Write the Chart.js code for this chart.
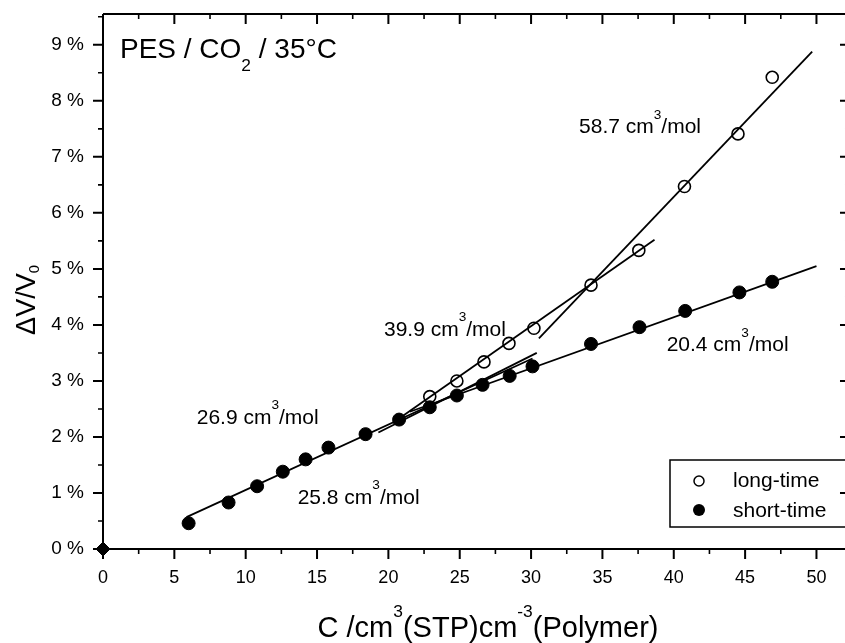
<!DOCTYPE html>
<html>
<head>
<meta charset="utf-8">
<script src="https://cdn.jsdelivr.net/npm/chart.js@4.4.1/dist/chart.umd.min.js"></script>
<style>
  html, body { margin: 0; padding: 0; background: #fff; }
  #wrap { width: 845px; height: 643px; }
</style>
</head>
<body>
<div id="wrap"><canvas id="chart" width="845" height="643"></canvas></div>
<script>
'use strict';

// sorbed CO2 (cm3(STP)/cm3 polymer) and dilation dV/V0 in %
var shortTimeC = [6.0, 8.8, 10.8, 12.6, 14.2, 15.8, 18.4, 20.75, 22.9, 24.8, 26.6, 28.5, 30.1, 34.2, 37.6, 40.8, 44.6, 46.9];
var shortTimeV = [0.46, 0.83, 1.12, 1.38, 1.60, 1.81, 2.05, 2.31, 2.53, 2.74, 2.93, 3.09, 3.26, 3.66, 3.96, 4.25, 4.58, 4.77];
var longTimeC = [22.9, 24.8, 26.7, 28.45, 30.2, 34.2, 37.55, 40.75, 44.5, 46.9];
var longTimeV = [2.72, 3.00, 3.34, 3.67, 3.94, 4.71, 5.33, 6.47, 7.41, 8.42];
var originC = [0];
var originV = [0];

// linear fits (partial molar volumes), two end points each
var fit258C = [5.85, 30.1];
var fit258V = [0.57, 3.40];
var fit269C = [19.3, 30.4];
var fit269V = [2.08, 3.50];
var fit399C = [20.3, 38.65];
var fit399V = [2.25, 5.52];
var fit587C = [30.55, 49.7];
var fit587V = [3.76, 8.88];
var fit204C = [21.5, 50.0];
var fit204V = [2.45, 5.05];

var xTicks = [0, 5, 10, 15, 20, 25, 30, 35, 40, 45, 50];
var xMinorTicks = [2.5, 7.5, 12.5, 17.5, 22.5, 27.5, 32.5, 37.5, 42.5, 47.5];
var yTicks = [0, 1, 2, 3, 4, 5, 6, 7, 8, 9];
var yMinorTicks = [0.5, 1.5, 2.5, 3.5, 4.5, 5.5, 6.5, 7.5, 8.5, 9.5];
var yTickLabels = ['0 %', '1 %', '2 %', '3 %', '4 %', '5 %', '6 %', '7 %', '8 %', '9 %'];

var FONT = 'Arial, "Liberation Sans", Helvetica, sans-serif';

function pts(xs, ys) {
  return xs.map(function(x, i) { return { x: x, y: ys[i] }; });
}

function fitLine(xs, ys) {
  return {
    data: pts(xs, ys), showLine: true, borderColor: '#000', borderWidth: 1.8,
    pointRadius: 0, fill: false
  };
}

// text with super/subscript parts: [text, 'sup' | 'sub' | undefined]
function richRuns(ctx, parts, size, small) {
  var runs = [], w = 0;
  parts.forEach(function(p) {
    var s = p[1] ? size * (small || 0.65) : size;
    ctx.font = s + 'px ' + FONT;
    var rw = ctx.measureText(p[0]).width;
    runs.push({ t: p[0], s: s, mode: p[1], w: rw });
    w += rw;
  });
  return { runs: runs, w: w };
}

function drawRich(ctx, parts, x, y, size, align, opts) {
  opts = opts || {};
  var r = richRuns(ctx, parts, size, opts.small);
  var cx = align === 'center' ? x - r.w / 2 : x;
  ctx.textAlign = 'left';
  ctx.textBaseline = 'alphabetic';
  ctx.fillStyle = '#000';
  r.runs.forEach(function(run) {
    ctx.font = run.s + 'px ' + FONT;
    var dy = 0;
    if (run.mode === 'sup') dy = -size * (opts.supUp || 0.7);
    if (run.mode === 'sub') dy = size * (opts.subDown || 0.45);
    ctx.fillText(run.t, cx, y + dy);
    cx += run.w;
  });
}

var annotations = [
  { x: 6.57, y: 2.23, parts: [['26.9 cm'], ['3', 'sup'], ['/mol']] },
  { x: 13.64, y: 0.80, parts: [['25.8 cm'], ['3', 'sup'], ['/mol']] },
  { x: 19.69, y: 3.81, parts: [['39.9 cm'], ['3', 'sup'], ['/mol']] },
  { x: 33.36, y: 7.42, parts: [['58.7 cm'], ['3', 'sup'], ['/mol']] },
  { x: 39.5, y: 3.53, parts: [['20.4 cm'], ['3', 'sup'], ['/mol']] }
];

var framePlugin = {
  id: 'frame',
  afterDraw: function(chart) {
    var ctx = chart.ctx, a = chart.chartArea;
    var xs = chart.scales.x, ys = chart.scales.y;
    var rightEdge = xs.getPixelForValue(52.35);
    ctx.save();
    ctx.strokeStyle = '#000';
    ctx.lineWidth = 2;
    ctx.beginPath();
    ctx.moveTo(a.left, a.top); ctx.lineTo(rightEdge, a.top);
    ctx.moveTo(a.left, a.top); ctx.lineTo(a.left, a.bottom);
    ctx.moveTo(a.left - 1, a.bottom); ctx.lineTo(rightEdge, a.bottom);
    ctx.moveTo(rightEdge, a.top); ctx.lineTo(rightEdge, a.bottom);
    ctx.stroke();

    function xTick(v, len) {
      var p = xs.getPixelForValue(v);
      ctx.moveTo(p, a.bottom); ctx.lineTo(p, a.bottom + len);
      ctx.moveTo(p, a.top); ctx.lineTo(p, a.top + len);
    }
    function yTick(v, len) {
      var p = ys.getPixelForValue(v);
      ctx.moveTo(a.left, p); ctx.lineTo(a.left - len, p);
      ctx.moveTo(rightEdge, p); ctx.lineTo(rightEdge - len, p);
    }
    ctx.lineWidth = 2;
    ctx.beginPath();
    xTicks.forEach(function(v) { xTick(v, 10); });
    yTicks.forEach(function(v) { yTick(v, 10); });
    ctx.stroke();
    ctx.lineWidth = 1.6;
    ctx.beginPath();
    xMinorTicks.forEach(function(v) { xTick(v, 5); });
    yMinorTicks.forEach(function(v) { yTick(v, 5); });
    ctx.stroke();

    // x tick labels
    ctx.fillStyle = '#000';
    ctx.font = '18px ' + FONT;
    ctx.textAlign = 'center';
    ctx.textBaseline = 'middle';
    xTicks.forEach(function(v) {
      ctx.fillText(String(v), xs.getPixelForValue(v), a.bottom + 29);
    });

    // title inside the plot
    drawRich(ctx, [['PES / CO'], ['2', 'sub'], [' / 35°C']], 120, 58, 28, 'left', { small: 0.62 });

    annotations.forEach(function(an) {
      drawRich(ctx, an.parts, xs.getPixelForValue(an.x), ys.getPixelForValue(an.y), 21, 'left');
    });

    // axis titles
    drawRich(ctx, [['C /cm'], ['3', 'sup'], ['(STP)cm'], ['-3', 'sup'], ['(Polymer)']], 488, 637, 29, 'center', { small: 0.6 });
    ctx.save();
    ctx.translate(35, 300);
    ctx.rotate(-Math.PI / 2);
    drawRich(ctx, [['ΔV/V'], ['0', 'sub']], 0, 0, 27, 'center', { small: 0.55, subDown: 0.15 });
    ctx.restore();

    // legend
    ctx.lineWidth = 1.5;
    ctx.strokeStyle = '#000';
    ctx.strokeRect(670, 460, 200, 67);
    ctx.beginPath();
    ctx.arc(699, 481, 5, 0, Math.PI * 2);
    ctx.stroke();
    ctx.beginPath();
    ctx.arc(699, 510, 6, 0, Math.PI * 2);
    ctx.fillStyle = '#000';
    ctx.fill();
    ctx.font = '21px ' + FONT;
    ctx.textAlign = 'left';
    ctx.textBaseline = 'alphabetic';
    ctx.fillText('long-time', 733, 487);
    ctx.fillText('short-time', 733, 517);
    ctx.restore();
  }
};

new Chart(document.getElementById('chart'), {
  type: 'scatter',
  data: {
    datasets: [
      { label: 'origin', data: pts(originC, originV), pointStyle: 'rectRot', pointRadius: 7,
        backgroundColor: '#000', borderColor: '#000', clip: false },
      { label: 'long-time', data: pts(longTimeC, longTimeV), pointRadius: 6, borderWidth: 1.6,
        borderColor: '#000', backgroundColor: 'rgba(0,0,0,0)' },
      { label: 'short-time', data: pts(shortTimeC, shortTimeV), pointRadius: 6.5,
        borderColor: '#000', backgroundColor: '#000' },
      fitLine(fit258C, fit258V),
      fitLine(fit269C, fit269V),
      fitLine(fit399C, fit399V),
      fitLine(fit587C, fit587V),
      fitLine(fit204C, fit204V)
    ]
  },
  options: {
    responsive: false,
    animation: false,
    events: [],
    layout: { autoPadding: false, padding: { top: 14, left: 0, right: 0, bottom: 0 } },
    plugins: { legend: { display: false }, tooltip: { enabled: false } },
    scales: {
      x: {
        type: 'linear', min: 0, max: 52,
        grid: { display: false, drawTicks: false },
        border: { display: false },
        afterFit: function(s) { s.height = 94; },
        afterBuildTicks: function(s) { s.ticks = xTicks.map(function(v) { return { value: v }; }); },
        ticks: { display: false }
      },
      y: {
        type: 'linear', min: 0, max: 9.55,
        grid: { display: false, drawTicks: false },
        border: { display: false },
        afterFit: function(s) {
          s.width = 103;
          s.paddingTop = 0; s.paddingBottom = 0;
        },
        afterBuildTicks: function(s) { s.ticks = yTicks.map(function(v) { return { value: v }; }); },
        ticks: {
          color: '#000', font: { size: 19, family: FONT }, padding: 19,
          callback: function(v) { return yTickLabels[yTicks.indexOf(v)]; }
        }
      }
    }
  },
  plugins: [framePlugin]
});
</script>
</body>
</html>
